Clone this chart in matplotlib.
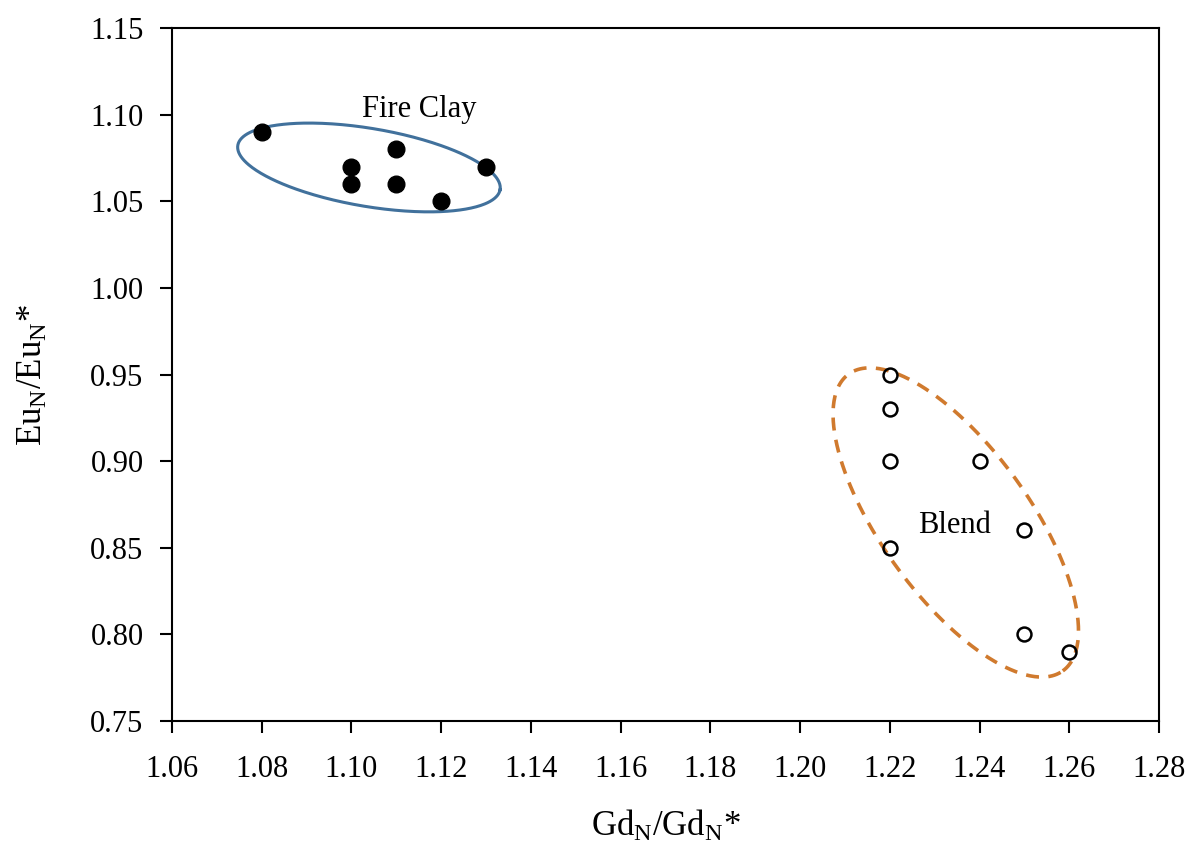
import matplotlib
matplotlib.use("Agg")
import matplotlib.pyplot as plt
import numpy as np

plt.rcParams['font.family'] = ['Liberation Serif', 'DejaVu Serif']
plt.rcParams['mathtext.fontset'] = 'custom'
plt.rcParams['mathtext.rm'] = 'Liberation Serif'
plt.rcParams['mathtext.it'] = 'Liberation Serif:italic'

# data
fire_gd = [1.08, 1.10, 1.10, 1.11, 1.11, 1.12, 1.13]
fire_eu = [1.09, 1.07, 1.06, 1.08, 1.06, 1.05, 1.07]
blend_gd = [1.22, 1.22, 1.22, 1.24, 1.22, 1.25, 1.25, 1.26]
blend_eu = [0.95, 0.93, 0.90, 0.90, 0.85, 0.86, 0.80, 0.79]

xticks = [1.06, 1.08, 1.10, 1.12, 1.14, 1.16, 1.18, 1.20, 1.22, 1.24, 1.26, 1.28]
yticks = [0.75, 0.80, 0.85, 0.90, 0.95, 1.00, 1.05, 1.10, 1.15]

W, H = 1193, 859
fig = plt.figure(figsize=(W / 100, H / 100), dpi=100)
left, right, bottom, top = 172 / W, 1159 / W, 1 - 721 / H, 1 - 28 / H
ax = fig.add_axes([left, bottom, right - left, top - bottom])

ax.plot(fire_gd, fire_eu, 'o', color='black', markersize=12, zorder=3)
ax.plot(blend_gd, blend_eu, 'o', markerfacecolor='none', markeredgecolor='black',
        markersize=10, markeredgewidth=1.8, zorder=3)

ax.set_xlim(1.06, 1.28)
ax.set_ylim(0.75, 1.15)
ax.set_xticks(xticks)
ax.set_yticks(yticks)
ax.set_xticklabels([f'{v:.2f}' for v in xticks])
ax.set_yticklabels([f'{v:.2f}' for v in yticks])

# pixels per data unit, so the ellipses keep their on-screen shape
sx = (right - left) * W / (1.28 - 1.06)
sy = (top - bottom) * H / (1.15 - 0.75)


def ellipse(cx, cy, a, b, ang):
    t = np.linspace(0, 2 * np.pi, 400)
    th = np.radians(ang)
    u, v = a * np.cos(t), b * np.sin(t)
    x = cx + (u * np.cos(th) - v * np.sin(th)) / sx
    y = cy + (u * np.sin(th) + v * np.cos(th)) / sy
    return x, y


ex, ey = ellipse(1.1039, 1.0695, 133, 39, -9.6)
ax.plot(ex, ey, color='#41719c', lw=2.2, zorder=2)
ex, ey = ellipse(1.2347, 0.8646, 183, 74, -54.2)
ax.plot(ex, ey, color='#d07a2e', lw=2.6, ls=(0, (3.6, 2.6)), zorder=2)

ax.text(1.1151, 1.0986, 'Fire Clay', fontsize=22, ha='center', va='baseline')
ax.text(1.2345, 0.8585, 'Blend', fontsize=22, ha='center', va='baseline')

ax.set_xlabel(r'Gd$_\mathrm{N}$/Gd$_\mathrm{N}$*', fontsize=25, labelpad=18)
ax.set_ylabel(r'Eu$_\mathrm{N}$/Eu$_\mathrm{N}$*', fontsize=25, labelpad=29)

ax.tick_params(direction='out', length=8.5, width=1.5, labelsize=22)
ax.tick_params(axis='x', pad=16)
ax.tick_params(axis='y', pad=12)
for s in ax.spines.values():
    s.set_linewidth(1.5)

fig.savefig('out.png', dpi=100)
